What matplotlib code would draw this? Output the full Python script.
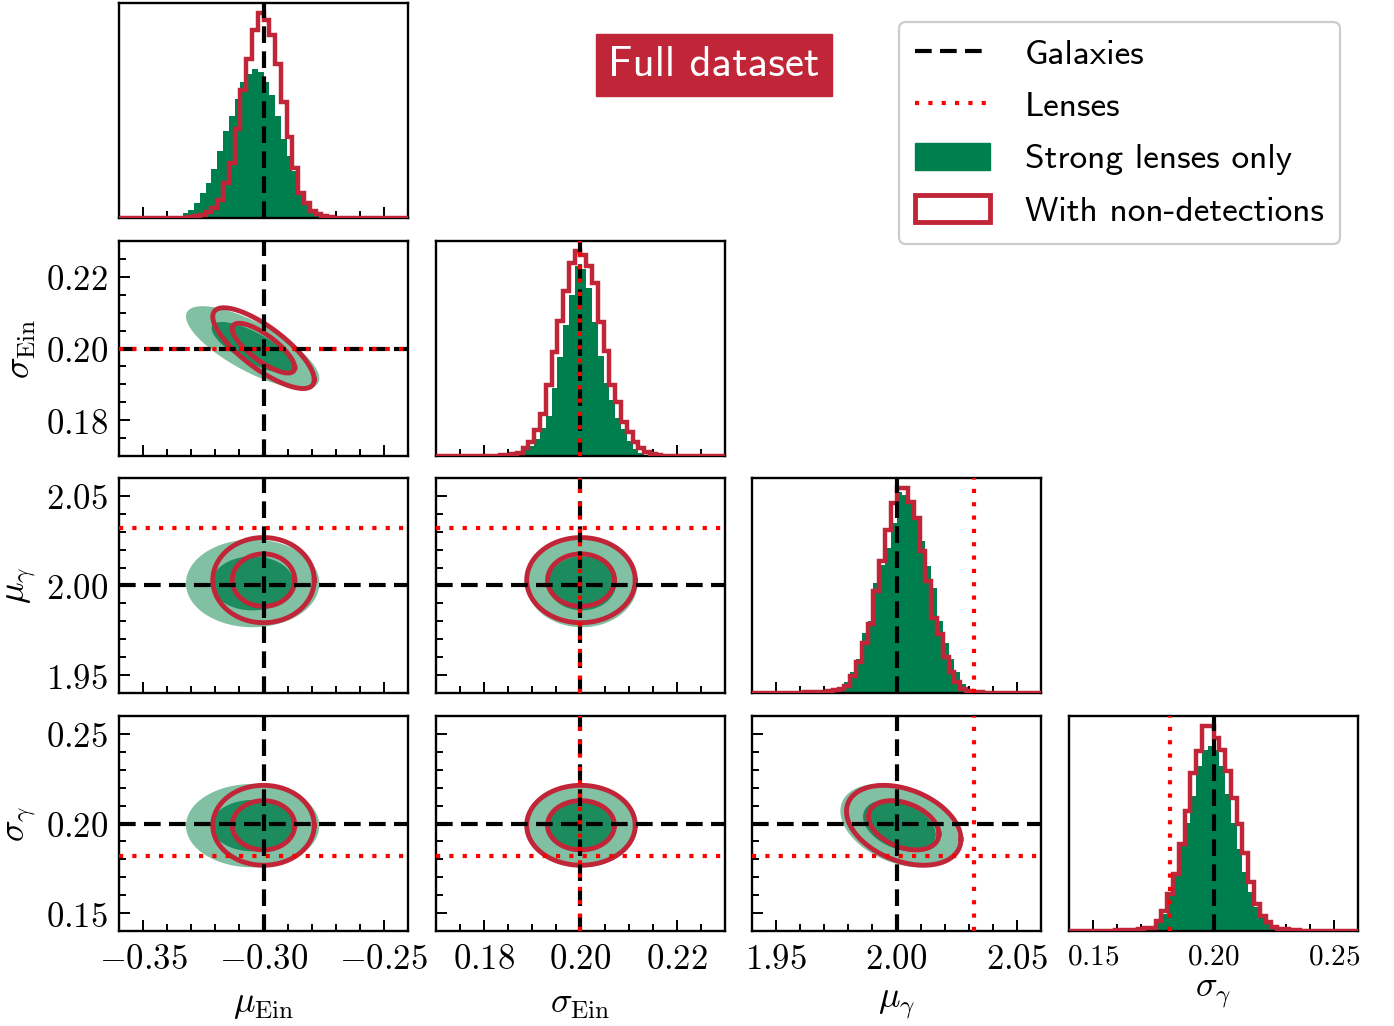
"""
Corner plot: hyper-parameter posteriors, strong lenses only vs. with non-detections.
"""
import numpy as np
import matplotlib.pyplot as plt
from matplotlib.patches import Patch
from matplotlib.lines import Line2D
from matplotlib.ticker import MultipleLocator, FuncFormatter

plt.rcParams['mathtext.fontset'] = 'cm'

# ---- data ----
labels = [r'$\mu_{\rm Ein}$', r'$\sigma_{\rm Ein}$', r'$\mu_\gamma$', r'$\sigma_\gamma$']
ranges = [(-0.36, -0.24), (0.17, 0.23), (1.94, 2.06), (0.14, 0.26)]
major_step = [0.05, 0.02, 0.05, 0.05]
minor_step = [0.01, 0.005, 0.01, 0.01]

truth_galaxies = [-0.30, 0.20, 2.00, 0.20]
truth_lenses = [None, 0.20, 2.032, 0.182]

# 1D histograms (50 bins over each range, relative counts)
hist_strong = [
    [0, 0, 0, 0, 0, 0, 0, 0, 0, 3, 5, 15, 25, 45, 75, 105, 145, 200, 260, 305,
     355, 405, 430, 445, 435, 405, 365, 305, 235, 185, 140, 80, 40, 15, 5, 2, 0, 0, 0, 0,
     0, 0, 0, 0, 0, 0, 0, 0, 0, 0],
    [0, 0, 0, 0, 0, 0, 0, 0, 0, 0, 0, 0, 0, 3, 8, 20, 30, 50, 85, 120,
     205, 300, 395, 485, 573, 563, 508, 403, 303, 220, 170, 115, 80, 45, 20, 8, 3, 0, 0, 0,
     0, 0, 0, 0, 0, 0, 0, 0, 0, 0],
    [0, 0, 0, 0, 0, 0, 0, 0, 0, 0, 0, 0, 0, 2, 5, 12, 32, 62, 102, 182,
     217, 332, 387, 437, 512, 607, 597, 572, 522, 457, 382, 317, 217, 152, 102, 62, 27, 7, 2, 0,
     0, 0, 0, 0, 0, 0, 0, 0, 0, 0],
    [0, 0, 0, 0, 0, 0, 0, 0, 0, 0, 0, 0, 0, 5, 10, 26, 51, 106, 176, 256,
     326, 406, 496, 546, 556, 546, 496, 411, 326, 246, 176, 116, 71, 46, 26, 11, 4, 0, 0, 0,
     0, 0, 0, 0, 0, 0, 0, 0, 0, 0],
]
hist_nondet = [
    [0, 0, 0, 0, 0, 0, 0, 0, 0, 0, 0, 1, 2, 5, 10, 17, 30, 55, 105, 165,
     265, 380, 475, 560, 610, 590, 545, 460, 345, 240, 150, 75, 45, 22, 12, 5, 2, 1, 0, 0,
     0, 0, 0, 0, 0, 0, 0, 0, 0, 0],
    [0, 0, 0, 0, 0, 0, 0, 0, 0, 0, 1, 2, 3, 5, 10, 23, 43, 78, 128, 213,
     313, 408, 498, 583, 618, 608, 573, 523, 403, 318, 213, 163, 103, 73, 43, 23, 11, 5, 2, 1,
     0, 0, 0, 0, 0, 0, 0, 0, 0, 0],
    [0, 0, 0, 0, 0, 0, 0, 0, 1, 2, 3, 3, 4, 5, 8, 12, 22, 52, 92, 152,
     207, 307, 397, 492, 572, 617, 617, 577, 527, 427, 337, 227, 177, 107, 62, 32, 12, 6, 4, 2,
     1, 0, 0, 0, 0, 0, 0, 0, 0, 0],
    [0, 0, 0, 0, 0, 0, 0, 1, 2, 3, 3, 4, 5, 8, 10, 31, 61, 111, 171, 261,
     361, 476, 541, 616, 616, 581, 546, 481, 401, 321, 236, 146, 81, 46, 26, 11, 6, 5, 3, 2,
     1, 1, 0, 0, 0, 0, 0, 0, 0, 0],
]

# 2D summary: means, standard deviations, correlations
mean_strong = [-0.3045, 0.2003, 2.0012, 0.1988]
std_strong = [0.0113, 0.0047, 0.0100, 0.0095]
mean_nondet = [-0.3000, 0.2001, 2.0030, 0.1990]
std_nondet = [0.0086, 0.0046, 0.0097, 0.0091]
# correlation for pairs (row, col)
corr_strong = {(1, 0): -0.75, (2, 0): 0.0, (3, 0): 0.0, (2, 1): 0.0, (3, 1): 0.0, (3, 2): -0.35}
corr_nondet = {(1, 0): -0.78, (2, 0): 0.0, (3, 0): 0.0, (2, 1): 0.0, (3, 1): 0.0, (3, 2): -0.35}
level_radii = [1.51, 2.45]  # 68% and 95% 2D credible regions

# ---- styling ----
green = '#007f4e'
green_light = '#82c0a4'
green_dark = '#1c8b5e'
red = '#c12638'
tick_fs = 25
label_fs = 26
dash = (0, (4, 2.0))
dots = (0, (1, 2.2))

W, H = 1394, 1026
col_x = [119, 436, 752, 1069]
row_y = [3, 241, 478, 716]
pw, ph = 289, 215

fig = plt.figure(figsize=(W / 100, H / 100), dpi=100)


def tick_fmt(v, pos):
    return f'${v:.2f}$'


def cov_contour(mx, my, sx, sy, rho, r):
    cov = np.array([[sx * sx, rho * sx * sy], [rho * sx * sy, sy * sy]])
    t = np.linspace(0, 2 * np.pi, 200)
    circ = np.vstack([np.cos(t), np.sin(t)]) * r
    pts = np.linalg.cholesky(cov) @ circ
    return pts[0] + mx, pts[1] + my


def style_axes(ax, i, j):
    ax.set_xlim(*ranges[j])
    ax.xaxis.set_major_locator(MultipleLocator(major_step[j]))
    ax.xaxis.set_minor_locator(MultipleLocator(minor_step[j]))
    ax.tick_params(which='both', direction='in', top=False, right=False,
                   width=1.4, pad=8)
    ax.tick_params(which='major', length=8)
    ax.tick_params(which='minor', length=5)
    for s in ax.spines.values():
        s.set_linewidth(1.7)
    if i == 3:
        ax.xaxis.set_major_formatter(FuncFormatter(tick_fmt))
        fs = tick_fs if j < 3 else 21
        ax.tick_params(axis='x', labelsize=fs)
        ax.set_xlabel(labels[j], fontsize=label_fs)
        ax.xaxis.set_label_coords(0.5, -0.26 if j < 3 else -0.21)
    else:
        ax.tick_params(axis='x', labelbottom=False)
    if i == j:
        ax.set_yticks([])
    else:
        ax.set_ylim(*ranges[i])
        ax.yaxis.set_major_locator(MultipleLocator(major_step[i]))
        ax.yaxis.set_minor_locator(MultipleLocator(minor_step[i]))
        if j == 0:
            ax.yaxis.set_major_formatter(FuncFormatter(tick_fmt))
            ax.tick_params(axis='y', labelsize=tick_fs)
            ax.set_ylabel(labels[i], fontsize=label_fs)
            ax.yaxis.set_label_coords(-0.28, 0.5)
        else:
            ax.tick_params(axis='y', labelleft=False)


for i in range(4):
    for j in range(i + 1):
        ax = fig.add_axes([col_x[j] / W, 1 - (row_y[i] + ph) / H, pw / W, ph / H])
        if i == j:
            edges = np.linspace(ranges[j][0], ranges[j][1], 51)
            ax.stairs(hist_strong[j], edges, fill=True, color=green, zorder=2)
            ax.stairs(hist_nondet[j], edges, color=red, lw=3.2, zorder=3)
            ax.set_ylim(0, max(hist_nondet[j]) * 1.05)
            ax.axvline(truth_galaxies[j], color='k', ls=dash, lw=3, zorder=4)
            if truth_lenses[j] is not None:
                ax.axvline(truth_lenses[j], color='red', ls=dots, lw=3, zorder=5)
        else:
            for mean, std, corr, kind in [(mean_strong, std_strong, corr_strong, 'fill'),
                                          (mean_nondet, std_nondet, corr_nondet, 'line')]:
                rho = corr[(i, j)]
                for r in sorted(level_radii, reverse=True):
                    x, y = cov_contour(mean[j], mean[i], std[j], std[i], rho, r)
                    if kind == 'fill':
                        c = green_light if r == max(level_radii) else green_dark
                        ax.fill(x, y, color=c, lw=0, zorder=2)
                    else:
                        ax.plot(x, y, color=red, lw=3.5, zorder=3)
            ax.axvline(truth_galaxies[j], color='k', ls=dash, lw=3, zorder=4)
            ax.axhline(truth_galaxies[i], color='k', ls=dash, lw=3, zorder=4)
            if truth_lenses[j] is not None:
                ax.axvline(truth_lenses[j], color='red', ls=dots, lw=3, zorder=5)
            if truth_lenses[i] is not None:
                ax.axhline(truth_lenses[i], color='red', ls=dots, lw=3, zorder=5)
        style_axes(ax, i, j)

# legend
handles = [
    Line2D([], [], color='k', ls=dash, lw=3),
    Line2D([], [], color='red', ls=dots, lw=3),
    Patch(facecolor=green, edgecolor=green),
    Patch(facecolor='white', edgecolor=red, lw=3.5),
]
names = ['Galaxies', 'Lenses', 'Strong lenses only', 'With non-detections']
leg = fig.legend(handles, names, loc='upper right', bbox_to_anchor=(1340 / W, 1 - 22 / H),
                 borderaxespad=0,
                 prop={'family': ['cmss10', 'DejaVu Sans'], 'size': 25.5},
                 handlelength=2.1, handleheight=0.8, labelspacing=0.55,
                 handletextpad=1.0, borderpad=0.45, frameon=True, fancybox=True,
                 edgecolor='#cccccc', framealpha=1)
leg.get_frame().set_linewidth(1.6)

fig.text(714 / W, 1 - 65 / H, 'Full dataset', color='white', fontsize=31,
         family=['cmss10', 'DejaVu Sans'], ha='center', va='center',
         bbox=dict(facecolor=red, edgecolor=red, boxstyle='square,pad=0.28'))

fig.savefig('out.png', dpi=100)
